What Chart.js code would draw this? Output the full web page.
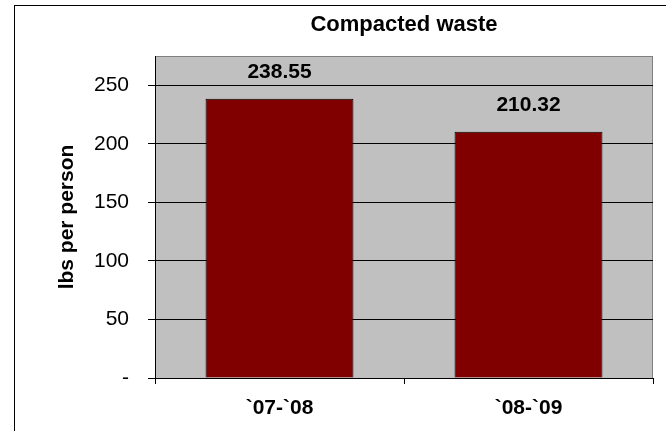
<!DOCTYPE html>
<html>
<head>
<meta charset="utf-8">
<script src="https://cdn.jsdelivr.net/npm/chart.js@4/dist/chart.umd.min.js"></script>
<style>
  body { margin: 0; background: #fff; }
  canvas { display: block; }
</style>
</head>
<body>
<canvas id="wasteChart" width="666" height="431"></canvas>
<script>
const years = ['`07-`08', '`08-`09'];
const lbsPerPerson = [238.55, 210.32];
const yTicks = [0, 50, 100, 150, 200, 250];

const font = 'Liberation Sans, Arial, sans-serif';

// grey plot area + outer frame of the chart
const background = {
    id: 'background',
    beforeDraw(chart) {
        const ctx = chart.ctx;
        const a = chart.chartArea;
        ctx.save();
        ctx.strokeStyle = '#000';
        ctx.lineWidth = 1;
        ctx.strokeRect(14.5, 5.5, 700, 500);
        ctx.fillStyle = '#C0C0C0';
        ctx.fillRect(a.left, a.top, a.right - a.left, a.bottom - a.top);
        ctx.strokeStyle = '#808080';
        ctx.strokeRect(a.left + 0.5, a.top + 0.5, a.right - a.left - 1, a.bottom - a.top);
        ctx.restore();
    }
};

// value labels above the bars
const valueLabels = {
    id: 'valueLabels',
    afterDatasetsDraw(chart) {
        const ctx = chart.ctx;
        const meta = chart.getDatasetMeta(0);
        ctx.save();
        ctx.font = 'bold 21px ' + font;
        ctx.fillStyle = '#000';
        ctx.textAlign = 'center';
        ctx.textBaseline = 'alphabetic';
        meta.data.forEach((bar, i) => {
            ctx.fillText(lbsPerPerson[i].toFixed(2), bar.x, bar.y - 21);
        });
        ctx.restore();
    }
};

const ctx = document.getElementById('wasteChart').getContext('2d');
const myChart = new Chart(ctx, {
    type: 'bar',
    data: {
        labels: years,
        datasets: [{
            label: 'Compacted waste',
            data: lbsPerPerson,
            backgroundColor: '#800000',
            borderColor: '#000',
            borderWidth: 1,
            categoryPercentage: 1,
            barPercentage: 0.594
        }]
    },
    options: {
        responsive: false,
        animation: false,
        layout: { padding: { left: 14, right: 13, top: 0, bottom: 0 } },
        plugins: {
            legend: { display: false },
            tooltip: { enabled: false }
        },
        scales: {
            // top axis only carries the chart title, centred over the plot area
            top: {
                type: 'category',
                position: 'top',
                labels: years,
                grid: { display: false },
                border: { display: false },
                ticks: { display: false },
                title: {
                    display: true,
                    text: 'Compacted waste',
                    color: '#000',
                    font: { family: font, size: 22, weight: 'bold' },
                    padding: { top: 12, bottom: 0 }
                },
                afterFit(scale) { scale.height = 56; }
            },
            x: {
                grid: {
                    drawOnChartArea: false,
                    drawTicks: true,
                    tickLength: 6,
                    color: '#000'
                },
                border: { color: '#000', width: 1 },
                ticks: {
                    color: '#000',
                    padding: 12,
                    font: { family: font, size: 21, weight: 'bold' }
                },
                afterFit(scale) { scale.height = 53; }
            },
            y: {
                min: 0,
                max: 275,
                afterBuildTicks(scale) {
                    scale.ticks = yTicks.map(v => ({ value: v }));
                },
                grid: { color: '#000', tickLength: 7 },
                border: { color: '#000', width: 1 },
                ticks: {
                    color: '#000',
                    padding: 19,
                    font: { family: font, size: 21 },
                    callback: v => v === 0 ? '-' : v
                },
                title: {
                    display: true,
                    text: 'lbs per person',
                    color: '#000',
                    font: { family: font, size: 21, weight: 'bold' },
                    padding: { top: 41, bottom: 0 }
                },
                afterFit(scale) { scale.width = 141; }
            }
        }
    },
    plugins: [background, valueLabels]
});
</script>
</body>
</html>
